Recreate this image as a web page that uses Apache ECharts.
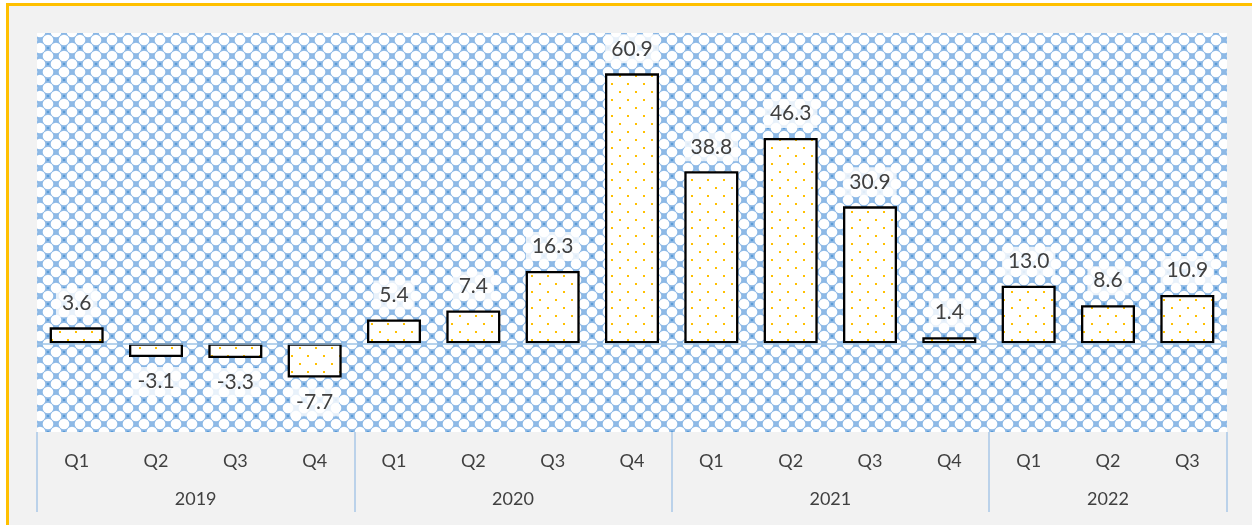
<html>
  <head>
    <meta http-equiv="Content-Type" content="text/html; charset=utf-8" />
    <script src="https://cdn.jsdelivr.net/npm/echarts@6/dist/echarts.min.js"></script>
    <style>
      body { margin: 0; background: #fff; overflow: hidden; }
      #frame { position: absolute; left: 6px; top: 3px; width: 1400px; height: 700px;
               border: 3px solid #FFC000; background: #F2F2F2; }
      #main { position: absolute; left: 0; top: 0; width: 1252px; height: 525px; }
    </style>
  </head>
  <body>
    <div id="frame"></div>
    <div id="main"></div>
    <script type="text/javascript">
// data
var quarters = ['Q1','Q2','Q3','Q4','Q1','Q2','Q3','Q4','Q1','Q2','Q3','Q4','Q1','Q2','Q3'];
var years = ['2019', '2020', '2021', '2022'];
var yearSpans = [4, 4, 4, 3];
var values = [3.6, -3.1, -3.3, -7.7, 5.4, 7.4, 16.3, 60.9, 38.8, 46.3, 30.9, 1.4, 13.0, 8.6, 10.9];

// year group boundaries and centres, in quarter units
var bounds = [0], centres = [];
yearSpans.forEach(function (s) {
  var b = bounds[bounds.length - 1];
  centres.push(b + s / 2);
  bounds.push(b + s);
});

// background lattice pattern: white round cells on a diagonal blue grid
function latticeTile() {
  var c = document.createElement('canvas');
  c.width = 16; c.height = 16;
  var g = c.getContext('2d');
  g.fillStyle = '#8DB9E6';
  g.fillRect(0, 0, 16, 16);
  g.fillStyle = '#fff';
  [[8, 0], [0, 8], [16, 8], [8, 16]].forEach(function (p) {
    g.beginPath();
    g.arc(p[0], p[1], 5.3, 0, Math.PI * 2);
    g.fill();
  });
  // darker knots on every other crossing
  g.fillStyle = '#5B9BD5';
  [[0, 0], [16, 0], [0, 16], [16, 16]].forEach(function (p) {
    g.beginPath();
    g.arc(p[0], p[1], 1.3, 0, Math.PI * 2);
    g.fill();
  });
  return c;
}

// bar dotted fill
function dotTile() {
  var c = document.createElement('canvas');
  c.width = 16; c.height = 16;
  var g = c.getContext('2d');
  g.fillStyle = '#fff';
  g.fillRect(0, 0, 16, 16);
  g.fillStyle = '#FFC000';
  g.fillRect(3, 3, 2, 2);
  g.fillRect(11, 11, 2, 2);
  return c;
}

var myChart = echarts.init(document.getElementById('main'));
var font = 'Lato, "Open Sans", sans-serif';

option = {
  backgroundColor: 'transparent',
  textStyle: { fontFamily: font },
  grid: {
    left: 37, right: 25, top: 33, bottom: 93,
    show: true,
    borderWidth: 0,
    backgroundColor: { image: latticeTile(), repeat: 'repeat' }
  },
  xAxis: [
    {
      type: 'category',
      data: quarters,
      axisLine: { show: false },
      axisTick: { show: false },
      axisLabel: { margin: 20, fontSize: 18, color: '#404040' }
    },
    {
      type: 'value',
      min: 0,
      max: bounds[bounds.length - 1],
      position: 'bottom',
      axisLine: { show: false },
      splitLine: { show: false },
      axisTick: {
        show: true,
        length: 80,
        customValues: bounds,
        lineStyle: { color: '#A9C8E8', width: 1.5 }
      },
      axisLabel: {
        margin: 58,
        fontSize: 18,
        color: '#404040',
        customValues: centres,
        formatter: function (v) {
          var i = centres.indexOf(v);
          return i >= 0 ? years[i] : '';
        }
      }
    }
  ],
  yAxis: { type: 'value', min: -20, max: 70, show: false },
  series: [
    {
      type: 'bar',
      xAxisIndex: 0,
      barWidth: 54,
      data: values.map(function (v) {
        return { value: v, label: { position: v < 0 ? 'bottom' : 'top' } };
      }),
      itemStyle: {
        color: { image: dotTile(), repeat: 'repeat' },
        borderColor: '#000',
        borderWidth: 2.3
      },
      label: {
        show: true,
        distance: 10,
        fontSize: 21,
        color: '#404040',
        backgroundColor: 'rgba(255,255,255,0.8)',
        padding: [4, 6],
        formatter: function (p) { return p.value.toFixed(1); }
      },
      markLine: {
        silent: true,
        symbol: 'none',
        label: { show: false },
        lineStyle: { color: '#9DC3E6', width: 1.5, type: 'solid' },
        data: [{ yAxis: 0 }]
      }
    }
  ]
};

myChart.setOption(option);
    </script>
  </body>
</html>
